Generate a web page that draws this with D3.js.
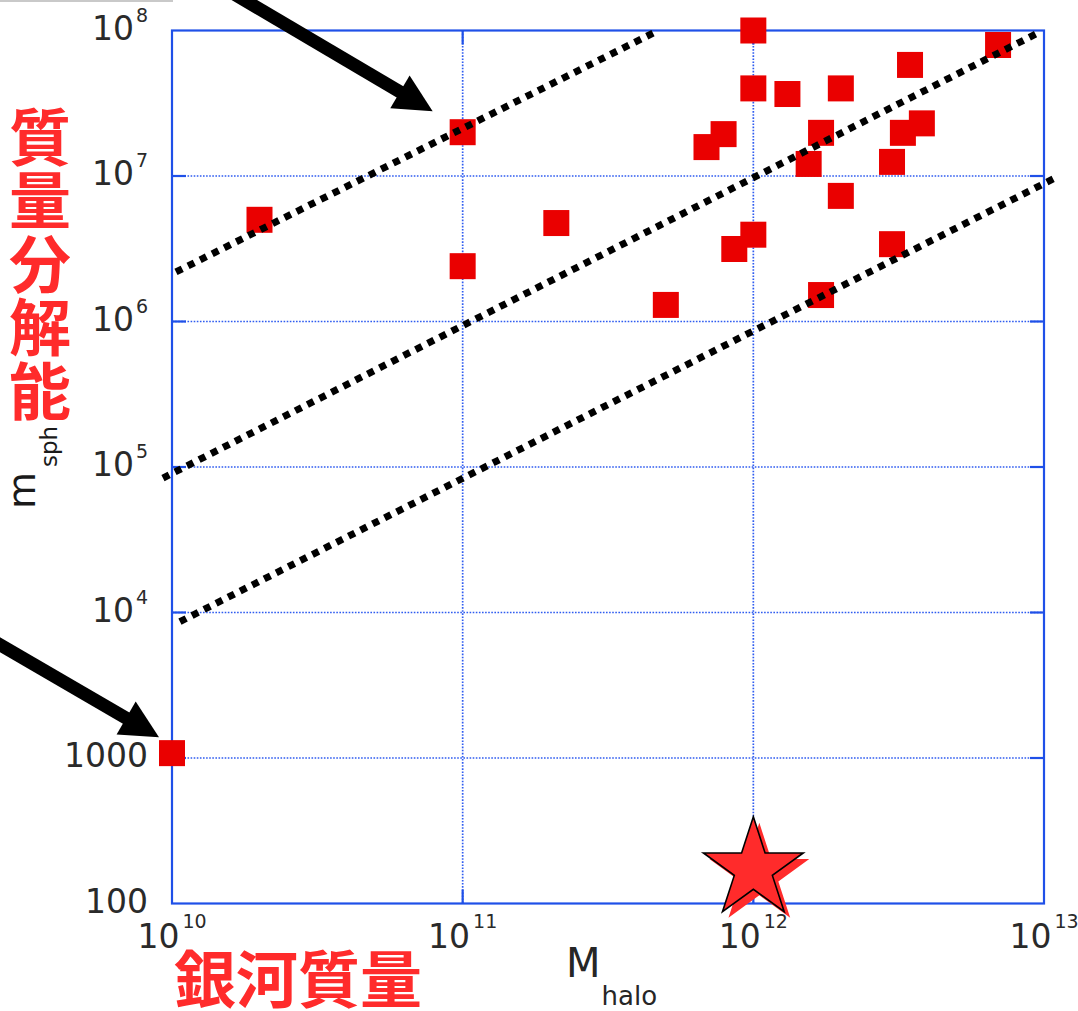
<!DOCTYPE html>
<html>
<head>
<meta charset="utf-8">
<script src="https://cdn.jsdelivr.net/npm/d3@7"></script>
<style>
  html, body { margin: 0; padding: 0; background: #fff; }
  svg { display: block; }
</style>
</head>
<body>
<svg id="chart" width="1078" height="1011"></svg>
<script>
// Simulated galaxies: halo mass vs. SPH particle mass
const haloMass = [1e10, 2.0e10, 1e11, 1e11, 2.1e11, 5.0e11, 6.9e11, 7.9e11, 8.6e11,
                  1e12, 1e12, 1e12, 1.31e12, 1.55e12, 1.71e12, 1.71e12, 2e12, 2e12,
                  3e12, 3e12, 3.27e12, 3.46e12, 3.8e12, 6.95e12];
const sphMass  = [1080, 5.0e6, 2.0e7, 2.4e6, 4.75e6, 1.3e6, 1.58e7, 1.94e7, 3.15e6,
                  1e8, 4e7, 3.95e6, 3.66e7, 1.21e7, 1.98e7, 1.52e6, 4e7, 7.3e6,
                  1.25e7, 3.4e6, 1.98e7, 5.8e7, 2.3e7, 7.95e7];

// Lines of constant particle number (endpoints: halo mass, particle mass)
const lineA_halo = [1.032e10, 4.52e11], lineA_sph = [2.19e6, 9.6e7];
const lineB_halo = [9.31e9, 9.53e12],   lineB_sph = [8.39e4, 9.62e7];
const lineC_halo = [1.065e10, 1.09e13], lineC_sph = [8.65e3, 9.68e6];

// Milky Way-mass target
const starHalo = [1e12], starSph = [172];

// Axis ticks
const xTickValues = [1e10, 1e11, 1e12, 1e13];
const xTickBase   = ["10", "10", "10", "10"];
const xTickSup    = ["10", "11", "12", "13"];
const yTickValues = [1e2, 1e3, 1e4, 1e5, 1e6, 1e7, 1e8];
const yTickBase   = ["100", "1000", "10", "10", "10", "10", "10"];
const yTickSup    = ["", "", "4", "5", "6", "7", "8"];

const svg = d3.select("#chart");
const plotL = 172, plotR = 1044, plotT = 30.5, plotB = 903.5;

const x = d3.scaleLog().domain([1e10, 1e13]).range([plotL, plotR]);
const y = d3.scaleLog().domain([1e2, 1e8]).range([plotB, plotT]);

const blue = "#1f50e8";
const gridBlue = "#2f5cf0";
const red = "#ff2b2b";
const tickFont = "DejaVu Sans, sans-serif";

// faint rule at the top-left edge
svg.append("rect").attr("x", 0).attr("y", 0).attr("width", 173).attr("height", 2)
  .attr("fill", "#c9c9c9");

// dotted grid
const grid = svg.append("g").attr("stroke", gridBlue).attr("stroke-width", 1.7)
  .attr("stroke-dasharray", "1.6,1.5").attr("fill", "none");
grid.selectAll("line.gx").data(xTickValues.slice(1, -1)).join("line")
  .attr("x1", d => x(d)).attr("x2", d => x(d)).attr("y1", plotT).attr("y2", plotB);
grid.selectAll("line.gy").data(yTickValues.slice(1, -1)).join("line")
  .attr("y1", d => y(d)).attr("y2", d => y(d)).attr("x1", plotL).attr("x2", plotR);

// frame and inward ticks
svg.append("rect").attr("x", plotL).attr("y", plotT)
  .attr("width", plotR - plotL).attr("height", plotB - plotT)
  .attr("fill", "none").attr("stroke", blue).attr("stroke-width", 2.2);
const ticks = svg.append("g").attr("stroke", blue).attr("stroke-width", 2.2);
const tl = 14;
yTickValues.slice(1, -1).forEach(v => {
  ticks.append("line").attr("x1", plotL).attr("x2", plotL + tl).attr("y1", y(v)).attr("y2", y(v));
  ticks.append("line").attr("x1", plotR).attr("x2", plotR - tl).attr("y1", y(v)).attr("y2", y(v));
});
xTickValues.slice(1, -1).forEach(v => {
  ticks.append("line").attr("x1", x(v)).attr("x2", x(v)).attr("y1", plotB).attr("y2", plotB - tl);
  ticks.append("line").attr("x1", x(v)).attr("x2", x(v)).attr("y1", plotT).attr("y2", plotT + tl);
});

// tick labels
const xl = svg.append("g").attr("font-family", tickFont).attr("fill", "#2a2a2a");
xTickValues.forEach((v, i) => {
  const t = xl.append("text").attr("x", x(v)).attr("y", 948)
    .attr("text-anchor", "middle").attr("font-size", 33);
  t.append("tspan").text(xTickBase[i]);
  t.append("tspan").attr("dx", 3).attr("dy", -20).attr("font-size", 19).text(xTickSup[i]);
});
const yl = svg.append("g").attr("font-family", tickFont).attr("fill", "#2a2a2a");
yTickValues.forEach((v, i) => {
  const t = yl.append("text").attr("x", 148).attr("y", y(v) + 9)
    .attr("text-anchor", "end").attr("font-size", 33);
  t.append("tspan").text(yTickBase[i]);
  if (yTickSup[i]) {
    t.append("tspan").attr("dx", 2).attr("dy", -18).attr("font-size", 19).text(yTickSup[i]);
  }
});

// axis titles
const xt = svg.append("text").attr("x", 566).attr("y", 977)
  .attr("font-family", tickFont).attr("fill", "#262626");
xt.append("tspan").attr("font-size", 40).text("M");
xt.append("tspan").attr("dx", 1).attr("dy", 28).attr("font-size", 26).text("halo");

const yt = svg.append("text").attr("transform", "translate(35,509) rotate(-90)")
  .attr("font-family", tickFont).attr("fill", "#1a1a1a");
yt.append("tspan").attr("font-size", 38).text("m");
yt.append("tspan").attr("dx", 5).attr("dy", 22).attr("font-size", 23).text("sph");

// galaxies
const sq = 26;
svg.append("g").selectAll("rect").data(haloMass).join("rect")
  .attr("x", (d, i) => x(d) - sq / 2).attr("y", (d, i) => y(sphMass[i]) - sq / 2)
  .attr("width", sq).attr("height", sq).attr("fill", "#ea0000");

// constant-particle-number lines
const lines = [[lineA_halo, lineA_sph], [lineB_halo, lineB_sph], [lineC_halo, lineC_sph]];
svg.append("g").selectAll("line").data(lines).join("line")
  .attr("x1", d => x(d[0][0])).attr("y1", d => y(d[1][0]))
  .attr("x2", d => x(d[0][1])).attr("y2", d => y(d[1][1]))
  .attr("stroke", "#000").attr("stroke-width", 7).attr("stroke-dasharray", "7,6.5");

// star marker
const starPath = (cx, cy, R, r) => {
  const pts = [];
  for (let k = 0; k < 10; k++) {
    const a = -Math.PI / 2 + k * Math.PI / 5;
    const rr = k % 2 === 0 ? R : r;
    pts.push([cx + rr * Math.cos(a), cy + rr * Math.sin(a)]);
  }
  return "M" + pts.map(p => p.join(",")).join("L") + "Z";
};
const sx = x(starHalo[0]), sy = y(starSph[0]);
svg.append("path").attr("d", starPath(sx + 6, sy + 6, 52.5, 20)).attr("fill", red);
svg.append("path").attr("d", starPath(sx, sy, 52.5, 20)).attr("fill", red)
  .attr("stroke", "#000").attr("stroke-width", 1.6).attr("stroke-linejoin", "miter");

// arrows pointing at two of the galaxies
const arrow = (tipX, tipY, fromX, fromY) => {
  const dx = tipX - fromX, dy = tipY - fromY, L = Math.hypot(dx, dy);
  const ux = dx / L, uy = dy / L, nx = -uy, ny = ux;
  const hl = 38, hw = 19;
  const bx = tipX - ux * hl, by = tipY - uy * hl;
  svg.append("line").attr("x1", fromX).attr("y1", fromY)
    .attr("x2", bx + ux * 4).attr("y2", by + uy * 4)
    .attr("stroke", "#000").attr("stroke-width", 13);
  svg.append("path")
    .attr("d", `M${tipX},${tipY}L${bx + nx * hw},${by + ny * hw}L${bx - nx * hw},${by - ny * hw}Z`)
    .attr("fill", "#000");
};
arrow(x(1e11) - 30, y(2e7) - 21, x(1e11) - 235, y(2e7) - 142);
arrow(x(1e10) - 13, y(1080) - 16, x(1e10) - 180, y(1080) - 113);

// Japanese annotations: vertical y-axis caption and horizontal x-axis caption
const jp = "Noto Sans CJK JP, sans-serif";
svg.append("text").attr("x", 40).attr("y", 106)
  .style("writing-mode", "vertical-rl").attr("letter-spacing", 1.5)
  .attr("font-family", jp).attr("font-weight", 700)
  .attr("font-size", 62).attr("fill", red).text("質量分解能");
svg.append("text").attr("x", 174).attr("y", 1003)
  .attr("font-family", jp).attr("font-weight", 700).attr("font-size", 62)
  .attr("fill", red).text("銀河質量");
</script>
</body>
</html>
